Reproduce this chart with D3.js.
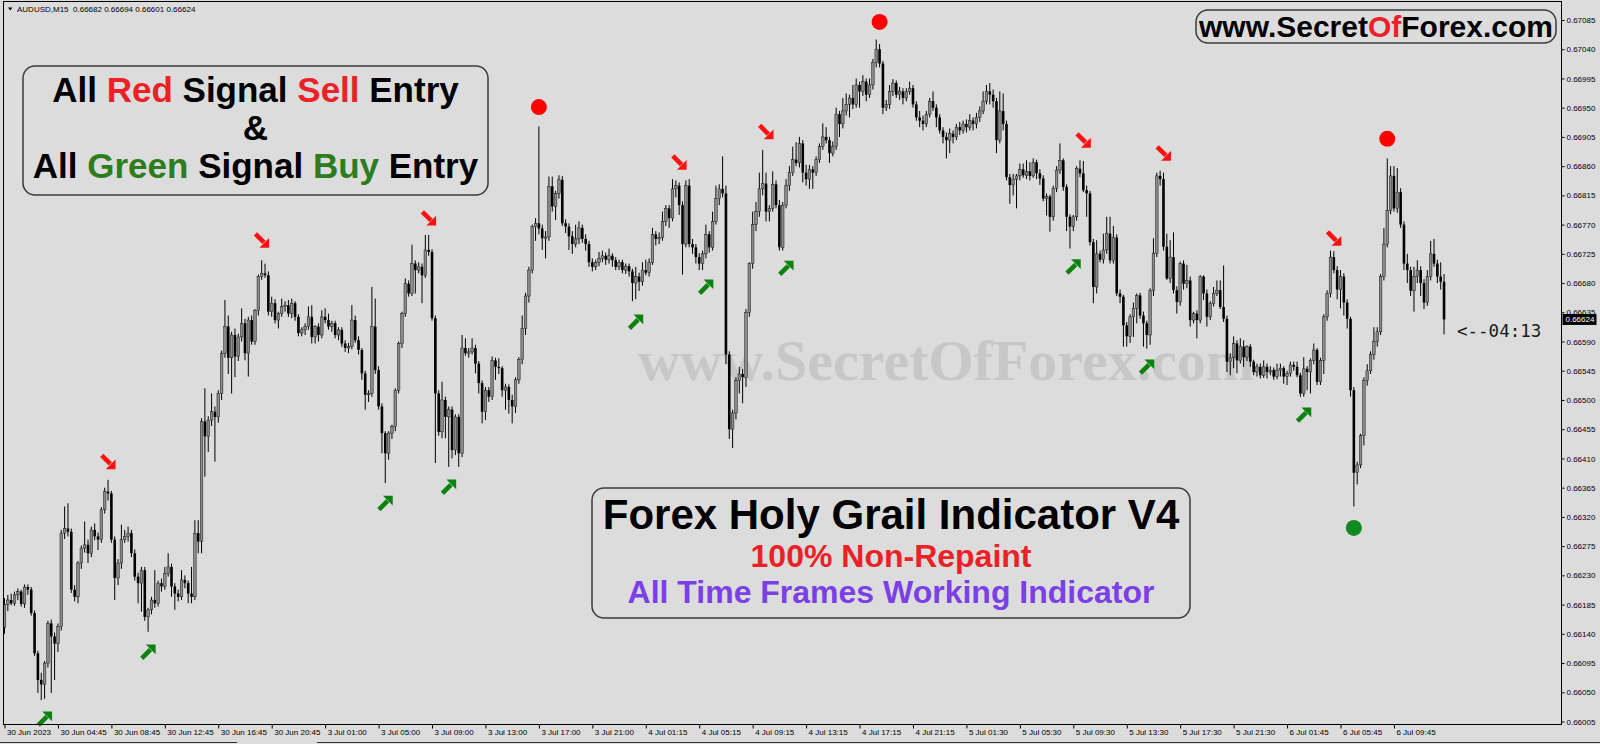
<!DOCTYPE html>
<html><head><meta charset="utf-8">
<script src="https://cdn.jsdelivr.net/npm/d3@7"></script>
<style>html,body{margin:0;padding:0;background:#dcdcdc;overflow:hidden}svg{display:block}</style>
</head><body><svg id="c" width="1600" height="744"></svg>
<script>
// AUDUSD M15 candles, prices in 1e-5 units (points)
const opens=[
66150,66185,66192,66187,66200,66205,66186,66212,66208,66172,
66110,66069,66062,66095,66156,66136,66125,66151,66295,66302,
66297,66208,66197,66249,66272,66277,66264,66300,66290,66285,
66331,66359,66356,66285,66226,66249,66285,66290,66295,66264,
66228,66218,66238,66166,66177,66192,66187,66218,66213,66233,
66243,66213,66202,66197,66223,66218,66202,66197,66295,66282,
66467,66444,66469,66482,66474,66510,66572,66613,66565,66600,
66567,66597,66618,66572,66623,66590,66638,66690,66695,66692,
66636,66649,66623,66633,66644,66646,66633,66649,66628,66603,
66608,66613,66628,66597,66613,66600,66628,66623,66613,66618,
66600,66608,66587,66580,66582,66623,66592,66577,66541,66508,
66510,66613,66546,66490,66449,66418,66449,66459,66515,66587,
66633,66679,66664,66710,66700,66705,66692,66731,66728,66626,
66510,66451,66500,66474,66485,66423,66474,66418,66580,66572,
66574,66580,66556,66526,66482,66515,66505,66561,66551,66549,
66515,66520,66500,66490,66531,66562,66610,66660,66700,66767,
66772,66764,66749,66751,66829,66798,66818,66839,66772,66767,
66752,66740,66748,66765,66748,66740,66712,66705,66712,66718,
66722,66716,66722,66715,66705,66712,66700,66706,66698,66680,
66690,66682,66700,66696,66712,66755,66748,66750,66775,66795,
66780,66825,66830,66800,66740,66830,66740,66735,66720,66710,
66725,66755,66735,66775,66810,66825,66818,66570,66455,66480,
66530,66540,66535,66635,66710,66770,66790,66825,66833,66790,
66795,66832,66800,66735,66800,66830,66850,66870,66865,66895,
66850,66840,66855,66850,66870,66890,66905,66900,66880,66890,
66940,66925,66945,66955,66965,66955,66985,66975,66990,66970,
66985,67020,67040,67018,66950,66955,66975,66988,66970,66975,
66965,66975,66980,66955,66935,66930,66925,66940,66960,66950,
66935,66915,66905,66900,66910,66905,66920,66915,66925,66920,
66930,66925,66935,66945,66960,66975,66970,66960,66900,66945,
66925,66843,66831,66840,66845,66855,66846,66852,66845,66866,
66849,66841,66810,66813,66782,66826,66854,66869,66828,66782,
66767,66782,66856,66849,66823,66818,66743,66674,66725,66716,
66731,66756,66715,66750,66664,66659,66615,66598,66628,66641,
66661,66630,66618,66600,66669,66726,66845,66840,66736,66687,
66720,66669,66651,66710,66679,66684,66623,66633,66623,66690,
66664,66628,66649,66664,66669,66643,66625,66559,66565,66587,
66561,66582,66566,66582,66559,66543,66551,66538,66551,66543,
66546,66536,66546,66549,66536,66541,66554,66551,66538,66510,
66548,66543,66561,66577,66528,66561,66628,66664,66720,66700,
66670,66690,66650,66625,66515,66388,66400,66445,66530,66545,
66570,66590,66605,66690,66740,66792,66845,66795,66820,66770,
66710,66700,66668,66690,66700,66680,66650,66690,66725,66710,
66690,66682];
const highs=[
66195,66200,66202,66205,66210,66208,66216,66216,66212,66176,
66114,66080,66098,66160,66162,66142,66156,66300,66336,66341,
66302,66215,66252,66276,66313,66285,66305,66310,66296,66335,
66365,66377,66360,66290,66255,66308,66300,66305,66300,66270,
66234,66243,66243,66180,66197,66238,66222,66225,66243,66264,
66248,66218,66208,66238,66230,66222,66243,66315,66315,66472,
66518,66475,66510,66490,66515,66576,66654,66630,66605,66610,
66602,66641,66625,66628,66630,66640,66693,66715,66710,66698,
66659,66655,66636,66656,66652,66654,66656,66652,66632,66612,
66618,66644,66646,66615,66618,66638,66641,66633,66622,66622,
66612,66612,66592,66588,66646,66630,66598,66580,66545,66515,
66674,66656,66552,66495,66452,66452,66462,66518,66590,66636,
66687,66684,66739,66715,66712,66710,66754,66754,66732,66630,
66515,66528,66505,66490,66490,66478,66478,66600,66595,66580,
66595,66585,66560,66530,66520,66520,66567,66565,66564,66552,
66525,66524,66508,66535,66566,66630,66665,66705,66770,66780,
66921,66770,66760,66844,66844,66822,66846,66845,66778,66772,
66760,66770,66775,66770,66755,66745,66718,66716,66728,66730,
66727,66733,66726,66720,66716,66716,66710,66710,66702,66705,
66696,66712,66716,66718,66765,66760,66758,66790,66800,66800,
66840,66838,66835,66806,66838,66840,66748,66740,66726,66730,
66770,66760,66790,66830,66832,66875,66830,66575,66485,66535,
66551,66548,66640,66712,66790,66805,66850,66885,66850,66800,
66852,66838,66808,66805,66840,66860,66890,66897,66905,66900,
66862,66862,66860,66875,66895,66926,66920,66905,66898,66950,
66945,66965,66972,66970,66985,66995,66990,67000,66995,66995,
67025,67055,67048,67022,66962,66985,66994,66992,66982,66980,
66980,66990,66985,66960,66945,66938,66945,66965,66975,66955,
66940,66920,66912,66918,66915,66925,66928,66930,66932,66940,
66935,66942,66952,66975,66985,66988,66978,66965,66975,66972,
66930,66848,66848,66848,66864,66864,66869,66866,66872,66870,
66855,66846,66818,66816,66830,66860,66895,66872,66832,66786,
66785,66860,66869,66868,66830,66822,66748,66746,66730,66756,
66782,66782,66768,66755,66670,66662,66620,66632,66650,66664,
66665,66636,66622,66672,66749,66850,66853,66850,66756,66746,
66758,66675,66713,66715,66708,66690,66636,66638,66692,66692,
66670,66652,66674,66684,66684,66707,66630,66572,66598,66592,
66595,66592,66584,66586,66562,66556,66556,66561,66556,66552,
66550,66556,66556,66552,66545,66559,66559,66559,66542,66566,
66552,66564,66587,66580,66565,66632,66669,66730,66729,66706,
66700,66695,66655,66628,66520,66405,66448,66535,66555,66575,
66612,66612,66694,66765,66872,66860,66860,66857,66826,66775,
66725,66705,66705,66715,66706,66686,66700,66745,66748,66716,
66712,66694];
const lows=[
66140,66175,66184,66183,66192,66182,66180,66200,66168,66106,
66049,66038,66040,66088,66049,66069,66112,66145,66286,66290,
66203,66190,66187,66240,66265,66249,66258,66284,66269,66280,
66325,66345,66280,66192,66215,66240,66280,66282,66258,66222,
66187,66174,66160,66143,66170,66180,66182,66205,66208,66228,
66197,66177,66190,66192,66210,66187,66187,66192,66264,66264,
66382,66420,66460,66405,66465,66500,66565,66540,66510,66535,
66560,66590,66561,66536,66585,66585,66630,66685,66688,66630,
66628,66618,66610,66628,66636,66628,66626,66622,66598,66598,
66600,66608,66587,66587,66590,66595,66618,66608,66605,66595,
66592,66582,66574,66572,66578,66588,66570,66531,66485,66497,
66505,66540,66485,66418,66372,66408,66440,66452,66510,66580,
66628,66659,66660,66664,66695,66649,66688,66722,66622,66403,
66445,66441,66441,66397,66410,66415,66397,66412,66568,66565,
66570,66541,66510,66464,66469,66497,66500,66531,66540,66505,
66485,66479,66464,66480,66525,66555,66600,66650,66695,66745,
66755,66731,66718,66745,66790,66777,66810,66768,66757,66731,
66725,66735,66740,66742,66730,66705,66698,66700,66706,66712,
66708,66710,66705,66700,66700,66695,66694,66690,66652,66655,
66668,66676,66692,66690,66708,66738,66740,66745,66768,66765,
66775,66812,66785,66693,66735,66735,66725,66710,66700,66700,
66718,66727,66730,66770,66800,66812,66555,66440,66426,66470,
66510,66495,66520,66628,66702,66760,66782,66815,66775,66775,
66790,66795,66730,66730,66795,66822,66845,66860,66858,66835,
66830,66825,66825,66845,66865,66885,66895,66865,66875,66885,
66905,66918,66938,66935,66948,66950,66950,66968,66960,66965,
66978,67012,67012,66940,66945,66948,66968,66965,66962,66955,
66960,66970,66950,66930,66920,66915,66920,66935,66945,66920,
66910,66895,66872,66880,66895,66900,66908,66910,66912,66915,
66915,66918,66928,66940,66955,66955,66950,66880,66895,66915,
66838,66802,66815,66795,66838,66842,66840,66838,66842,66840,
66831,66806,66784,66759,66776,66820,66848,66822,66760,66733,
66760,66776,66843,66820,66782,66738,66649,66664,66712,66710,
66725,66710,66710,66660,66649,66582,66582,66588,66597,66618,
66625,66582,66579,66585,66660,66720,66830,66730,66685,66680,
66664,66633,66645,66670,66672,66613,66618,66595,66618,66654,
66613,66623,66644,66660,66640,66620,66543,66538,66549,66541,
66556,66551,66560,66551,66538,66536,66533,66534,66533,66538,
66531,66532,66536,66525,66523,66536,66545,66535,66505,66505,
66515,66510,66555,66523,66523,66540,66622,66658,66695,66655,
66641,66630,66610,66505,66336,66370,66395,66430,66522,66540,
66562,66582,66600,66684,66735,66786,66790,66788,66765,66700,
66680,66660,66636,66680,66660,66640,66645,66684,66705,66680,
66670,66601];
const closes=[
66185,66192,66187,66200,66205,66186,66212,66208,66172,66110,
66069,66062,66095,66156,66136,66125,66151,66295,66302,66297,
66208,66197,66249,66272,66277,66264,66300,66290,66285,66331,
66359,66356,66285,66226,66249,66285,66290,66295,66264,66228,
66218,66238,66166,66177,66192,66187,66218,66213,66233,66243,
66213,66202,66197,66223,66218,66202,66197,66295,66282,66467,
66444,66469,66482,66474,66510,66572,66613,66565,66600,66567,
66597,66618,66572,66623,66590,66638,66690,66695,66692,66636,
66649,66623,66633,66644,66646,66633,66649,66628,66603,66608,
66613,66628,66597,66613,66600,66628,66623,66613,66618,66600,
66608,66587,66580,66582,66623,66592,66577,66541,66508,66510,
66613,66546,66490,66449,66418,66449,66459,66515,66587,66633,
66679,66664,66710,66700,66705,66692,66731,66728,66626,66510,
66451,66500,66474,66485,66423,66474,66418,66580,66572,66574,
66580,66556,66526,66482,66515,66505,66561,66551,66549,66515,
66520,66500,66490,66531,66562,66610,66660,66700,66767,66772,
66764,66749,66751,66829,66798,66818,66839,66772,66767,66752,
66740,66748,66765,66748,66740,66712,66705,66712,66718,66722,
66716,66722,66715,66705,66712,66700,66706,66698,66680,66690,
66682,66700,66696,66712,66755,66748,66750,66775,66795,66780,
66825,66830,66800,66740,66830,66740,66735,66720,66710,66725,
66755,66735,66775,66810,66825,66818,66570,66455,66480,66530,
66540,66535,66635,66710,66770,66790,66825,66833,66790,66795,
66832,66800,66735,66800,66830,66850,66870,66865,66895,66850,
66840,66855,66850,66870,66890,66905,66900,66880,66890,66940,
66925,66945,66955,66965,66955,66985,66975,66990,66970,66985,
67020,67040,67018,66950,66955,66975,66988,66970,66975,66965,
66975,66980,66955,66935,66930,66925,66940,66960,66950,66935,
66915,66905,66900,66910,66905,66920,66915,66925,66920,66930,
66925,66935,66945,66960,66975,66970,66960,66900,66945,66925,
66843,66831,66840,66845,66855,66846,66852,66845,66866,66849,
66841,66810,66813,66782,66826,66854,66869,66828,66782,66767,
66782,66856,66849,66823,66818,66743,66674,66725,66716,66731,
66756,66715,66750,66664,66659,66615,66598,66628,66641,66661,
66630,66618,66600,66669,66726,66845,66840,66736,66687,66720,
66669,66651,66710,66679,66684,66623,66633,66623,66690,66664,
66628,66649,66664,66669,66643,66625,66559,66565,66587,66561,
66582,66566,66582,66559,66543,66551,66538,66551,66543,66546,
66536,66546,66549,66536,66541,66554,66551,66538,66510,66548,
66543,66561,66577,66528,66561,66628,66664,66720,66700,66670,
66690,66650,66625,66515,66388,66400,66445,66530,66545,66570,
66590,66605,66690,66740,66792,66845,66795,66820,66770,66710,
66700,66668,66690,66700,66680,66650,66690,66725,66710,66690,
66682,66624];

const timeLabels=["30 Jun 2023","30 Jun 04:45","30 Jun 08:45","30 Jun 12:45","30 Jun 16:45","30 Jun 20:45",
"3 Jul 01:00","3 Jul 05:00","3 Jul 09:00","3 Jul 13:00","3 Jul 17:00","3 Jul 21:00",
"4 Jul 01:15","4 Jul 05:15","4 Jul 09:15","4 Jul 13:15","4 Jul 17:15","4 Jul 21:15",
"5 Jul 01:30","5 Jul 05:30","5 Jul 09:30","5 Jul 13:30","5 Jul 17:30","5 Jul 21:30",
"6 Jul 01:45","6 Jul 05:45","6 Jul 09:45"];
const timeLabelBars=[0,16,32,48,64,80,96,112,128,144,160,176,192,208,224,240,256,272,288,304,320,336,352,368,384,400,416];
const priceTicks=[0.67085,0.67040,0.66995,0.66950,0.66905,0.66860,0.66815,0.66770,0.66725,0.66680,0.66635,0.66590,0.66545,0.66500,0.66455,0.66410,0.66365,0.66320,0.66275,0.66230,0.66185,0.66140,0.66095,0.66050,0.66005];

// indicator signals (bar index, price in points)
const buyArrowBars=[12,43,114,133,189,210,234,320,342,389];
const buyArrowPrices=[66009,66112,66341,66366,66620,66674,66703,66705,66551,66477];
const sellArrowBars=[31,77,127,202,228,323,347,398];
const sellArrowPrices=[66405,66746,66780,66866,66913,66900,66880,66749];
const sellDotBars=[160,262,414];
const sellDotPrices=[66951,67082,66902];
const buyDotBars=[404];
const buyDotPrices=[66303];

const lastPrice=0.66624;
const headerText="AUDUSD,M15  0.66682 0.66694 0.66601 0.66624";
const countdown="<--04:13";

const BG="#dcdcdc";
const svg=d3.select("#c");
const pt=v=>v/1e5;
const nBars=closes.length;
const x=d3.scaleLinear().domain([0,nBars-1]).range([4.5,4.5+(nBars-1)*3.34]);
const y=d3.scaleLinear().domain([0.66005,0.67085]).range([721.5,20]);
const plotR=1561.5, plotB=724.5;

svg.append("rect").attr("width",1600).attr("height",744).attr("fill",BG);

// watermark
svg.append("text").attr("x",638).attr("y",380)
  .attr("font-family","Liberation Serif, Times New Roman, serif").attr("font-weight","bold")
  .attr("font-size",58).attr("fill","#c7c7c7").text("www.SecretOfForex.com");

// candles
const cg=svg.append("g");
const bars=d3.range(nBars);
cg.selectAll("line.w").data(bars).join("line")
  .attr("x1",i=>x(i)).attr("x2",i=>x(i))
  .attr("y1",i=>y(pt(Math.max(highs[i],opens[i],closes[i]))))
  .attr("y2",i=>y(pt(Math.min(lows[i],opens[i],closes[i]))))
  .attr("stroke","#000").attr("stroke-width",1);
cg.selectAll("rect.b").data(bars).join("rect")
  .attr("x",i=>x(i)-1.3).attr("width",2.6)
  .attr("y",i=>y(pt(Math.max(opens[i],closes[i]))))
  .attr("height",i=>Math.max(0.8,Math.abs(y(pt(opens[i]))-y(pt(closes[i])))))
  .attr("fill",i=>closes[i]>=opens[i]?"#8a8a8a":"#000")
  .attr("stroke",i=>closes[i]>=opens[i]?"#1a1a1a":"none")
  .attr("stroke-width",0.5);

// signals
function drawArrow(g,cx,cy,up,color){
  const s=up?-1:1;
  const a=g.append("g").attr("transform",`translate(${cx},${cy}) scale(1.15)`);
  a.append("line").attr("x1",-5.5).attr("y1",-5.5*s).attr("x2",2).attr("y2",2*s)
    .attr("stroke",color).attr("stroke-width",4);
  a.append("path").attr("d",`M6.5,${6.5*s}L6.5,${-2*s}L-2,${6.5*s}Z`).attr("fill",color);
}
const sg=svg.append("g");
buyArrowBars.forEach((b,k)=>drawArrow(sg,x(b),y(pt(buyArrowPrices[k])),true,"#0b820b"));
sellArrowBars.forEach((b,k)=>drawArrow(sg,x(b),y(pt(sellArrowPrices[k])),false,"#ff1010"));
sellDotBars.forEach((b,k)=>sg.append("circle").attr("cx",x(b)).attr("cy",y(pt(sellDotPrices[k]))).attr("r",8).attr("fill","#ff0000"));
buyDotBars.forEach((b,k)=>sg.append("circle").attr("cx",x(b)).attr("cy",y(pt(buyDotPrices[k]))).attr("r",8).attr("fill","#128a22"));

// frame
svg.append("rect").attr("x",3.5).attr("y",1.5).attr("width",plotR-3.5).attr("height",plotB-1.5)
  .attr("fill","none").attr("stroke","#000").attr("stroke-width",1);

// right axis
const ya=svg.append("g").attr("transform",`translate(${plotR},0)`)
  .call(d3.axisRight(y).tickValues(priceTicks).tickSize(3).tickSizeOuter(0).tickFormat(d3.format(".5f")));
ya.select(".domain").remove();
ya.selectAll("text").attr("font-family","Liberation Sans, Arial, sans-serif").attr("font-size",8).attr("x",5).attr("fill","#000");
ya.selectAll("line").attr("stroke","#000");

// bottom axis
const xa=svg.append("g").attr("transform",`translate(0,${plotB})`)
  .call(d3.axisBottom(x).tickValues(timeLabelBars).tickSize(4).tickSizeOuter(0).tickFormat((d,i)=>timeLabels[i]));
xa.select(".domain").remove();
xa.selectAll("text").attr("font-family","Liberation Sans, Arial, sans-serif").attr("font-size",8)
  .attr("text-anchor","start").attr("x",2).attr("y",5).attr("fill","#000");
xa.selectAll("line").attr("stroke","#000");

// last price label
const ly=y(lastPrice);
svg.append("rect").attr("x",plotR+1).attr("y",ly-5.5).attr("width",34).attr("height",11).attr("fill","#000");
svg.append("text").attr("x",plotR+4).attr("y",ly+3).attr("font-family","Liberation Sans, Arial, sans-serif")
  .attr("font-size",8).attr("fill","#fff").text(d3.format(".5f")(lastPrice));

// header
svg.append("path").attr("d","M8,7.5L12.5,7.5L10.25,10.5Z").attr("fill","#000");
svg.append("text").attr("x",17).attr("y",11.5).attr("font-family","Liberation Sans, Arial, sans-serif")
  .attr("font-size",8).attr("fill","#000").style("white-space","pre").text(headerText);

// countdown
svg.append("text").attr("x",1457).attr("y",337).attr("font-family","DejaVu Sans Mono, monospace")
  .attr("font-size",17.5).attr("fill","#1a1a1a").text(countdown);

// bottom tab line
svg.append("path").attr("d","M0,742.5H237M317,742.5H1600").attr("stroke","#333").attr("stroke-width",1);

// text boxes
const F="Liberation Sans, Arial, Helvetica, sans-serif";
function box(x0,y0,w,h){svg.append("rect").attr("x",x0).attr("y",y0).attr("width",w).attr("height",h).attr("rx",12)
  .attr("fill",BG).attr("stroke","#3a3a3a").attr("stroke-width",1.5);}
const RED="#ec2027", GRN="#2d7d1e", PUR="#7b3fe6";
function line(cx,by,size,parts){
  const t=svg.append("text").attr("x",cx).attr("y",by).attr("text-anchor","middle")
    .attr("font-family",F).attr("font-weight","bold").attr("font-size",size).style("white-space","pre");
  parts.forEach(p=>t.append("tspan").attr("fill",p[1]).text(p[0]));
}
box(23,66,465,129);
line(255.5,102,35,[["All ","#000"],["Red",RED],[" Signal ","#000"],["Sell",RED],[" Entry","#000"]]);
line(255.5,140,35,[["&","#000"]]);
line(255.5,178,35,[["All ","#000"],["Green",GRN],[" Signal ","#000"],["Buy",GRN],[" Entry","#000"]]);

box(592,488,598,130);
line(891,529,42,[["Forex Holy Grail Indicator V4","#000"]]);
line(891,567,32,[["100% Non-Repaint",RED]]);
line(891,603,32,[["All Time Frames Working Indicator",PUR]]);

box(1196,10,360,33);
line(1376,37,30,[["www.Secret","#000"],["Of",RED],["Forex.com","#000"]]);
</script></body></html>
